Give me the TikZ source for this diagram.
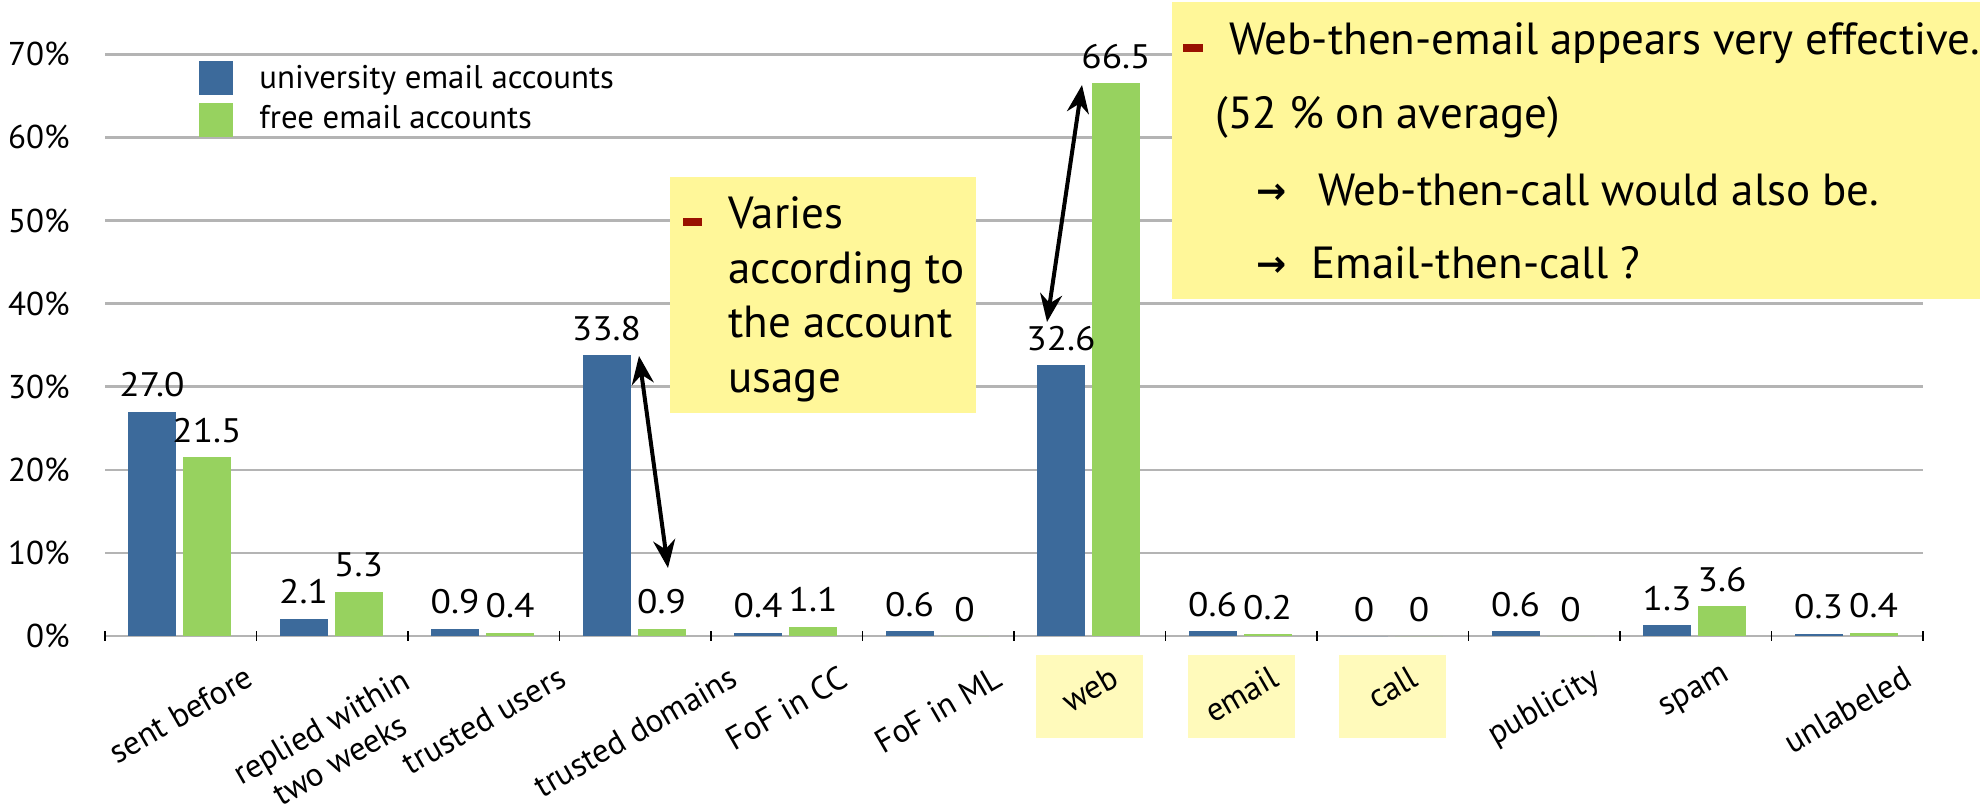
\documentclass[tikz,border=0pt]{standalone}
\usepackage{fontspec}
\usepackage{graphicx}
\setmainfont{PT Sans}
\newfontfamily\valuefont{PT Sans}[FakeStretch=1.1]
\newfontfamily\arrowfont{DejaVu Sans}
\usetikzlibrary{arrows.meta}

\definecolor{uniblue}{HTML}{3C6A9B}
\definecolor{freegreen}{HTML}{97D25F}
\definecolor{gridgray}{HTML}{B4B4B4}
\definecolor{noteyellow}{HTML}{FFF799}
\definecolor{tagyellow}{HTML}{FFFABB}
\definecolor{bulletred}{HTML}{991100}

\begin{document}
\begin{tikzpicture}[x=0.5pt,y=-0.5pt,
  gridline/.style={draw=gridgray,line width=1.3pt},
  axistick/.style={draw=black,line width=0.8pt},
  unibar/.style={fill=uniblue,draw=none},
  freebar/.style={fill=freegreen,draw=none},
  axislabel/.style={anchor=east,inner sep=0pt,font=\fontsize{16.5}{19}\selectfont},
  valuelabel/.style={anchor=base,inner sep=0pt,font=\valuefont\fontsize{17}{19}\selectfont},
  catlabel/.style={anchor=north,inner sep=0pt,font=\fontsize{16.5}{19}\selectfont},
  legendtext/.style={anchor=base west,inner sep=0pt,font=\fontsize{16.4}{19}\selectfont},
  tagbox/.style={fill=tagyellow,draw=none},
  notebox/.style={fill=noteyellow,draw=none},
  notetext/.style={anchor=base west,inner sep=0pt,font=\fontsize{22.5}{27.5}\selectfont},
  notearrow/.style={anchor=base west,inner sep=0pt,font=\arrowfont\bfseries\fontsize{18}{22}\selectfont},
  bulletmark/.style={fill=bulletred,draw=none},
  dblarrow/.style={line width=2pt,{Stealth[length=14pt,width=11pt]}-{Stealth[length=14pt,width=11pt]}},
]

\useasboundingbox (0,0) rectangle (1980,811);
\fill[white] (0,0) rectangle (1980,811);

% horizontal gridlines and percentage scale
\foreach \p/\t in {0/0,1/10,2/20,3/30,4/40,5/50,6/60,7/70} {
  \draw[gridline] (105,636-83.1*\p) -- (1923,636-83.1*\p);
  \node[axislabel] (ylab\p) at (70,636-83.1*\p) {\t\%};
}

% legend
\fill[uniblue] (199,61) rectangle (233,95);
\fill[freegreen] (199,103) rectangle (233,137);
\node[legendtext] (leguni) at (259,88) {university email accounts};
\node[legendtext] (legfree) at (259,128) {free email accounts};

% bars with their values
\foreach \i/\u/\f in {0/27.0/21.5, 1/2.1/5.3, 2/0.9/0.4, 3/33.8/0.9,
                      4/0.4/1.1, 5/0.6/0, 6/32.6/66.5, 7/0.6/0.2,
                      8/0/0, 9/0.6/0, 10/1.3/3.6, 11/0.3/0.4} {
  \fill[unibar] (128+151.5*\i,636) rectangle (176+151.5*\i,636-8.31*\u);
  \fill[freebar] (183+151.5*\i,636) rectangle (231+151.5*\i,636-8.31*\f);
  \node[valuelabel] (vu\i) at (152+151.5*\i,621-8.31*\u) {\u};
  \node[valuelabel] (vf\i) at (207+151.5*\i,621-8.31*\f) {\f};
}

% category ticks
\foreach \i in {0,...,12} {
  \draw[axistick] (105+151.5*\i,631) -- (105+151.5*\i,641);
}

% highlighted categories
\foreach \i in {6,7,8} {
  \fill[tagbox] (127.25+151.5*\i,655) rectangle (234.25+151.5*\i,738);
}

% category names
\node[catlabel] (cat0) at (180.75,664) {\rotatebox{30}{sent before}};
\node[catlabel] (cat1) at (332.25,664) {\rotatebox{30}{\begin{tabular}{@{}c@{}}replied within\\two weeks\end{tabular}}};
\node[catlabel] (cat2) at (483.75,664) {\rotatebox{30}{trusted users}};
\node[catlabel] (cat3) at (635.25,664) {\rotatebox{30}{trusted domains}};
\node[catlabel] (cat4) at (786.75,664) {\rotatebox{30}{FoF in CC}};
\node[catlabel] (cat5) at (938.25,664) {\rotatebox{30}{FoF in ML}};
\node[catlabel] (cat6) at (1089.75,664) {\rotatebox{30}{web}};
\node[catlabel] (cat7) at (1241.25,664) {\rotatebox{30}{email}};
\node[catlabel] (cat8) at (1392.75,664) {\rotatebox{30}{call}};
\node[catlabel] (cat9) at (1544.25,664) {\rotatebox{30}{publicity}};
\node[catlabel] (cat10) at (1695.75,664) {\rotatebox{30}{spam}};
\node[catlabel] (cat11) at (1847.25,664) {\rotatebox{30}{unlabeled}};

% note on trusted domains
\fill[notebox] (670,177) rectangle (976,413);
\fill[bulletmark] (683,218) rectangle (702,226);
\node[notetext] (vary1) at (728,228) {Varies};
\node[notetext] (vary2) at (728,283) {according to};
\node[notetext] (vary3) at (728,337) {the account};
\node[notetext] (vary4) at (728,392) {usage};

% note on web
\fill[notebox] (1172,2) rectangle (1980,299);
\fill[bulletmark] (1183,44) rectangle (1203,52);
\node[notetext] (web1) at (1229,54) {Web-then-email appears very effective.};
\node[notetext] (web2) at (1215,128) {(52 \% on average)};
\node[notearrow] (arr3) at (1256,203) {→};
\node[notetext] (web3) at (1318,205) {Web-then-call would also be.};
\node[notearrow] (arr4) at (1256,276) {→};
\node[notetext] (web4) at (1311,278) {Email-then-call ?};

% comparison arrows
\coordinate (domtop) at (639,356);
\coordinate (dombot) at (668,568);
\draw[dblarrow] (domtop) -- (dombot);
\coordinate (webtop) at (1082,85);
\coordinate (webbot) at (1047,322);
\draw[dblarrow] (webtop) -- (webbot);

\end{tikzpicture}
\end{document}
